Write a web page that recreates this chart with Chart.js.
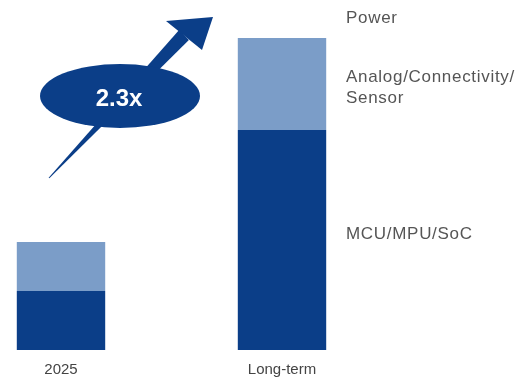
<!DOCTYPE html>
<html>
<head>
<meta charset="utf-8">
<script src="https://cdn.jsdelivr.net/npm/chart.js@4/dist/chart.umd.min.js"></script>
<style>
  html, body { margin: 0; padding: 0; background: #ffffff; }
  #wrap { width: 522px; height: 380px; position: relative; }
</style>
</head>
<body>
<div id="wrap"><canvas id="chart" width="522" height="380"></canvas></div>
<script>
// Periods on the x axis
const periods = ['2025', 'Long-term'];

// Segment names, bottom to top (Power has no visible share)
const segmentNames = ['MCU/MPU/SoC', 'Analog/Connectivity/Sensor', 'Power'];

// Market size by segment (relative units)
const mcuValues = [5.9, 22.0];
const analogValues = [4.9, 9.2];
const powerValues = [0, 0];

// Growth callout
const growthLabel = '2.3x';

const DARK = '#0b3e88';
const LIGHT = '#7b9dc8';
const TEXT = '#555555';

// Draws the growth arrow with its oval badge and the segment names to the right
const decorations = {
  id: 'decorations',
  afterDatasetsDraw(chart) {
    const ctx = chart.ctx;
    const y = chart.scales.y;
    ctx.save();

    // tapered arrow shaft
    const sx = 49, sy = 178;          // thin tail end
    const bx = 184, by = 35;          // shaft base under the head
    const nx = 0.700, ny = 0.714;     // perpendicular to the shaft
    ctx.fillStyle = DARK;
    ctx.beginPath();
    ctx.moveTo(sx - 0.5 * nx, sy - 0.5 * ny);
    ctx.lineTo(bx - 7 * nx, by - 7 * ny);
    ctx.lineTo(bx + 7 * nx, by + 7 * ny);
    ctx.lineTo(sx + 0.5 * nx, sy + 0.5 * ny);
    ctx.closePath();
    ctx.fill();

    // arrow head
    ctx.beginPath();
    ctx.moveTo(166, 21);
    ctx.lineTo(213, 17);
    ctx.lineTo(202, 50);
    ctx.closePath();
    ctx.fill();

    // oval badge
    ctx.beginPath();
    ctx.ellipse(120, 96, 80, 32, 0, 0, Math.PI * 2);
    ctx.fill();
    ctx.fillStyle = '#ffffff';
    ctx.font = 'bold 24px "Liberation Sans", Arial, sans-serif';
    ctx.textAlign = 'center';
    ctx.textBaseline = 'middle';
    ctx.fillText(growthLabel, 119, 99);

    // segment names beside the long-term bar
    const i = 1;
    const mcuMid = y.getPixelForValue(mcuValues[i] / 2);
    const analogMid = y.getPixelForValue(mcuValues[i] + analogValues[i] / 2);
    const top = y.getPixelForValue(mcuValues[i] + analogValues[i] + powerValues[i]);
    ctx.fillStyle = TEXT;
    ctx.font = '17px "Liberation Sans", Arial, sans-serif';
    ctx.textAlign = 'left';
    ctx.textBaseline = 'middle';
    if ('letterSpacing' in ctx) ctx.letterSpacing = '0.7px';
    const lx = 346;
    ctx.fillText(segmentNames[0], lx, mcuMid - 6);
    const parts = segmentNames[1].split('/');
    ctx.fillText(parts[0] + '/' + parts[1] + '/', lx, analogMid - 7);
    ctx.fillText(parts[2], lx, analogMid + 14);
    ctx.fillText(segmentNames[2], lx, top - 20);
    ctx.restore();
  }
};

new Chart(document.getElementById('chart'), {
  type: 'bar',
  data: {
    labels: periods,
    datasets: [
      { label: segmentNames[0], data: mcuValues, backgroundColor: DARK, clip: false },
      { label: segmentNames[1], data: analogValues, backgroundColor: LIGHT, clip: false },
      { label: segmentNames[2], data: powerValues, backgroundColor: LIGHT, clip: false }
    ]
  },
  options: {
    responsive: false,
    animation: false,
    barPercentage: 0.4,
    categoryPercentage: 1.0,
    layout: { padding: { left: 61, right: 240, top: 38, bottom: 2 } },
    plugins: { legend: { display: false }, tooltip: { enabled: false } },
    scales: {
      x: {
        stacked: true,
        offset: false,
        grid: { display: false },
        border: { display: false },
        afterFit(scale) { scale.height = 28; },
        ticks: {
          color: '#444444',
          padding: 3,
          font: { family: '"Liberation Sans", Arial, sans-serif', size: 15 }
        }
      },
      y: {
        stacked: true,
        display: false,
        min: 0,
        max: 31.2
      }
    }
  },
  plugins: [decorations]
});
</script>
</body>
</html>
